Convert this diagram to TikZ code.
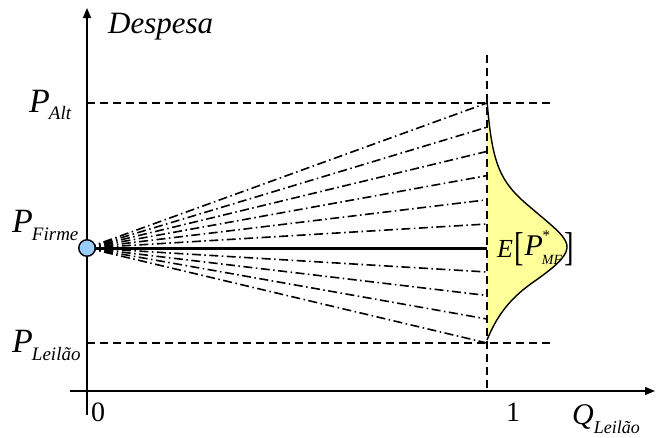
\documentclass[tikz,border=0pt]{standalone}
\usepackage{fontspec}
\setmainfont{Liberation Serif}
\usepackage{graphicx}
\usetikzlibrary{arrows.meta}
\definecolor{curvefill}{HTML}{FFFF99}
\definecolor{dotblue}{HTML}{99CCFF}
\tikzset{
  axisline/.style={line width=1.6pt,-{Triangle[length=10pt,width=8pt]}},
  guide/.style={line width=1.4pt,dash pattern=on 8pt off 5pt},
  fanline/.style={line width=1.6pt,dash pattern=on 9pt off 3.5pt on 1.5pt off 3.5pt},
  lbl/.style={anchor=base west,inner sep=0pt,font=\itshape}
}
\newcommand{\fsz}[1]{\fontsize{#1pt}{#1pt}\selectfont}
\begin{document}
\begin{tikzpicture}[x=1pt,y=-1pt]
\useasboundingbox (0,0) rectangle (656,437);
% key points
\coordinate (O) at (87,248);
\coordinate (ytop) at (87,8);
\coordinate (ybot) at (87,415);
\coordinate (xl) at (70,391);
\coordinate (xr) at (655,391);
\coordinate (vtop) at (487,55);
\coordinate (vbot) at (487,391);
\coordinate (altL) at (87,103);
\coordinate (altR) at (552,103);
\coordinate (leiL) at (87,343);
\coordinate (leiR) at (552,343);
\coordinate (mid) at (487,248);
\coordinate (ctop) at (487,100);
\coordinate (cbot) at (487,340);
\coordinate (cpeak) at (567,248);
% distribution
\fill[curvefill] (ctop) .. controls (492,165) and (500,182) .. (530,207)
  .. controls (556,229) and (568,238) .. (cpeak)
  .. controls (566,258) and (552,269) .. (532,283)
  .. controls (508,300) and (496,318) .. (cbot) -- cycle;
\draw[line width=1.4pt] (ctop) .. controls (492,165) and (500,182) .. (530,207)
  .. controls (556,229) and (568,238) .. (cpeak)
  .. controls (566,258) and (552,269) .. (532,283)
  .. controls (508,300) and (496,318) .. (cbot);
% guides
\draw[guide] (altL) -- (altR);
\draw[guide] (leiL) -- (leiR);
\draw[guide] (vtop) -- (vbot);
% fan
\foreach \yy [count=\i] in {103,127.2,151.4,175.6,199.8,224,272,295.5,319,343} {
  \coordinate (f\i) at (487,\yy);
  \draw[fanline] (O) -- (f\i);
}
\draw[line width=3pt] (O) -- (mid);
% axes
\draw[axisline] (ybot) -- (ytop);
\draw[axisline] (xl) -- (xr);
\node[circle,draw,line width=1.4pt,fill=dotblue,minimum size=16.5pt,inner sep=0pt] (origin) at (O) {};
% labels
\node[lbl] (desp) at (108,33) {\fsz{31}Despesa};
\node[lbl] (palt) at (29,112) {\fsz{34}P\kern-1pt\raisebox{-7pt}{\fsz{19}Alt}};
\node[lbl] (pfirme) at (12,232) {\fsz{34}P\kern-1pt\raisebox{-8pt}{\fsz{19}Firme}};
\node[lbl] (pleilao) at (12,352) {\fsz{34}P\kern-1pt\raisebox{-8pt}{\fsz{19}Leilão}};
\node[lbl] (zero) at (91,421) {\upshape\fsz{28}0};
\node[anchor=base,inner sep=0pt] (one) at (513,421) {\fsz{28}1};
\node[lbl] (qlei) at (572,424) {\fsz{30}Q\raisebox{-9pt}{\fsz{18}Leilão}};
\node[lbl] (expect) at (497,257) {\fsz{26}E\kern1pt\upshape\raisebox{-3pt}{\scalebox{1.1}[1.55]{[}}\kern1pt\itshape\raisebox{2pt}{\fsz{30}P}\rlap{\raisebox{17pt}{\kern-1pt\fsz{15}*}}\kern-1pt\raisebox{-7pt}{\fsz{14}MF}\kern2pt\upshape\raisebox{-3pt}{\scalebox{1.1}[1.55]{]}}};
\end{tikzpicture}
\end{document}
